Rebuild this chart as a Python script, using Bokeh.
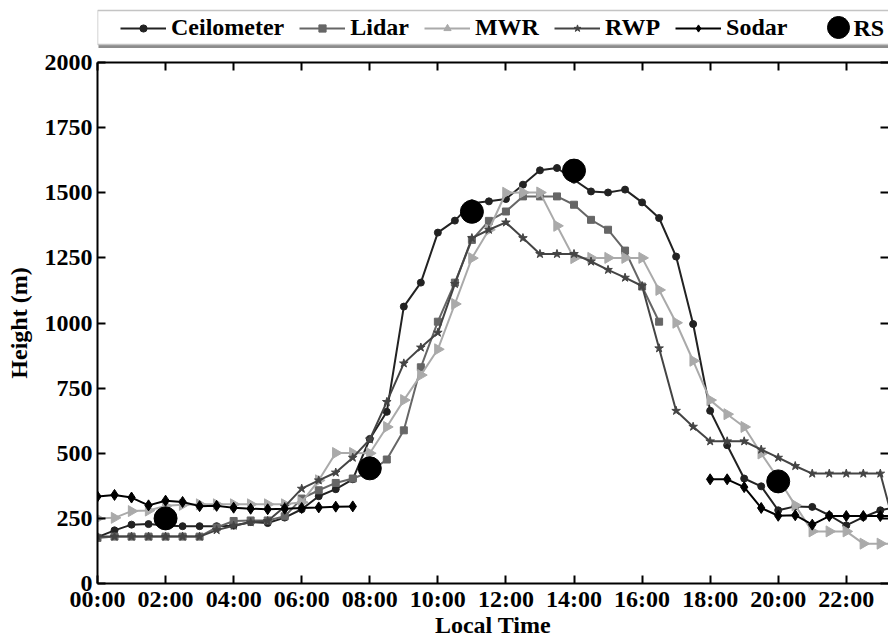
import numpy as np
from bokeh.plotting import figure
from bokeh.layouts import column
from bokeh.models import (Range1d, LinearAxis, FixedTicker, Legend, LegendItem,
                          ColumnDataSource, Label)
from bokeh.embed import file_html
from bokeh.resources import INLINE

nan = float("nan")

hours = [0, 0.5, 1, 1.5, 2, 2.5, 3, 3.5, 4, 4.5, 5, 5.5, 6, 6.5, 7, 7.5,
         8, 8.5, 9, 9.5, 10, 10.5, 11, 11.5, 12, 12.5, 13, 13.5, 14, 14.5, 15, 15.5,
         16, 16.5, 17, 17.5, 18, 18.5, 19, 19.5, 20, 20.5, 21, 21.5, 22, 22.5, 23, 23.5]

ceilometer = [178, 204, 226, 228, 223, 220, 220, 220, 222, 236, 232, 253, 285, 335, 362, 400,
              555, 659, 1063, 1155, 1347, 1393, 1460, 1467, 1476, 1531, 1586, 1595, 1550, 1505, 1501, 1512,
              1463, 1403, 1255, 996, 663, 531, 403, 373, 281, 296, 294, 262, 223, 255, 281, 295]

lidar = [175, 180, 180, 180, 180, 180, 180, 215, 240, 242, 242, 258, 326, 358, 386, 403,
         428, 476, 588, 830, 1005, 1155, 1319, 1392, 1428, 1486, 1486, 1486, 1454, 1396, 1358, 1278,
         1140, 1005, nan, nan, nan, nan, nan, nan, nan, nan, nan, nan, nan, nan, nan, nan]

mwr = [250, 252, 278, 280, 298, 302, 304, 304, 304, 304, 304, 304, 312, 396, 501, 501,
       500, 601, 704, 800, 899, 1073, 1249, 1358, 1500, 1501, 1501, 1373, 1249, 1250, 1250, 1250,
       1250, 1127, 1001, 855, 704, 650, 601, 499, 403, 300, 200, 200, 200, 153, 153, 153]

rwp = [180, 180, 180, 180, 180, 180, 180, 205, 222, 235, 240, 295, 364, 396, 426, 483,
       553, 697, 845, 906, 963, 1150, 1326, 1358, 1386, 1326, 1265, 1265, 1265, 1236, 1204, 1174,
       1142, 903, 663, 602, 546, 546, 546, 514, 483, 451, 422, 422, 422, 422, 422, 180]

sodar = [334, 340, 330, 300, 318, 313, 297, 298, 291, 287, 285, 287, 290, 292, 295, 296,
         nan, nan, nan, nan, nan, nan, nan, nan, nan, nan, nan, nan, nan, nan, nan, nan,
         nan, nan, nan, nan, 400, 400, 370, 290, 260, 262, 226, 259, 259, 259, 259, 259]

rs_hours = [2, 8, 11, 14, 20]
rs_height = [250, 442, 1427, 1585, 392]

series_names = ["Ceilometer", "Lidar", "MWR", "RWP", "Sodar", "RS"]

x_ticks = [0, 2, 4, 6, 8, 10, 12, 14, 16, 18, 20, 22]
x_tick_labels = ["00:00", "02:00", "04:00", "06:00", "08:00", "10:00",
                 "12:00", "14:00", "16:00", "18:00", "20:00", "22:00"]
y_ticks = [0, 250, 500, 750, 1000, 1250, 1500, 1750, 2000]

FONT = "Liberation Serif"
W = 888
LEFT = 97
LEG_H = 48
MAIN_H = 640 - LEG_H
FRAME_TOP = 62

# ---------------- main plot ----------------
p = figure(width=W, height=MAIN_H, output_backend="svg", toolbar_location=None,
           x_range=Range1d(0, 23.24), y_range=Range1d(0, 2000),
           min_border_left=LEFT, min_border_right=0, min_border_top=FRAME_TOP - LEG_H,
           min_border_bottom=57)
p.xgrid.visible = False
p.ygrid.visible = False
p.outline_line_color = None
p.background_fill_color = "white"


def style_axis(ax, ticks, labels=True):
    ax.ticker = FixedTicker(ticks=ticks)
    ax.axis_line_color = "black"
    ax.axis_line_width = 2
    ax.major_tick_line_color = "black"
    ax.major_tick_line_width = 2
    ax.major_tick_in = 8
    ax.major_tick_out = 0
    ax.minor_tick_line_color = None
    ax.major_label_text_font = FONT
    ax.major_label_text_font_style = "bold"
    ax.major_label_text_color = "black"
    ax.axis_label_text_color = "black"
    if labels:
        ax.major_label_text_font_size = "24px"
    else:
        ax.major_label_text_font_size = "1px"
        ax.major_label_text_alpha = 0
        ax.major_label_standoff = 0


xa = p.xaxis[0]
style_axis(xa, x_ticks)
xa.major_label_overrides = {t: l for t, l in zip(x_ticks, x_tick_labels)}
xa.major_label_standoff = 2
xa.axis_label = "Local Time"
xa.axis_label_text_font = FONT
xa.axis_label_text_font_style = "bold"
xa.axis_label_text_font_size = "24px"
xa.axis_label_standoff = -3

ya = p.yaxis[0]
style_axis(ya, y_ticks)
ya.major_label_standoff = 5
ya.axis_label = "Height (m)"
ya.axis_label_text_font = FONT
ya.axis_label_text_font_style = "bold"
ya.axis_label_text_font_size = "24px"
ya.axis_label_standoff = 10

top = LinearAxis()
style_axis(top, x_ticks, labels=False)
p.add_layout(top, "above")

right = LinearAxis()
style_axis(right, y_ticks, labels=False)
right.axis_line_color = None
p.add_layout(right, "right")

styles = {
    "Ceilometer": dict(color="#222222", marker="circle", size=7, angle=0.0),
    "Lidar": dict(color="#666666", marker="square", size=7, angle=0.0),
    "MWR": dict(color="#aaaaaa", marker="triangle", size=11, angle=-np.pi / 2),
    "RWP": dict(color="#444444", marker="star", size=9, angle=0.0),
    "Sodar": dict(color="#000000", marker="diamond", size=11, angle=0.0),
}
values = {"Ceilometer": ceilometer, "Lidar": lidar, "MWR": mwr, "RWP": rwp, "Sodar": sodar}

for name in series_names[:5]:
    st = styles[name]
    src = ColumnDataSource(dict(x=np.array(hours, dtype=float),
                                y=np.array(values[name], dtype=float)))
    p.line("x", "y", source=src, line_color=st["color"], line_width=2)
    p.scatter("x", "y", source=src, marker=st["marker"], size=st["size"],
              fill_color=st["color"], line_color=st["color"], angle=st["angle"])

p.scatter(rs_hours, rs_height, marker="circle", size=23, fill_color="black", line_color="black")

# ---------------- legend strip (frame is aligned with the main plot frame) ----------------
lg = figure(width=W, height=LEG_H, output_backend="svg", toolbar_location=None,
            x_range=Range1d(LEFT, W), y_range=Range1d(LEG_H, 0),
            x_axis_type=None, y_axis_type=None,
            min_border_left=LEFT, min_border_right=0, min_border_top=0, min_border_bottom=0)
lg.xgrid.visible = False
lg.ygrid.visible = False
lg.outline_line_color = None
lg.background_fill_color = "white"

# legend box with drop shadow
lg.quad(left=[98], right=[905], top=[14], bottom=[48], fill_color="#8c8c8c", line_color=None)
lg.quad(left=[97], right=[900], top=[10], bottom=[44], fill_color="white",
        line_color="#c4c4c4", line_width=1.5)

items = []
for name in series_names[:5]:
    st = styles[name]
    dummy = ColumnDataSource(dict(x=[nan], y=[nan]))
    ln = lg.line("x", "y", source=dummy, line_color=st["color"], line_width=2)
    sc = lg.scatter("x", "y", source=dummy, marker=st["marker"], size=st["size"],
                    fill_color=st["color"], line_color=st["color"], angle=st["angle"])
    items.append(LegendItem(label=name, renderers=[ln, sc]))

legend = Legend(items=items, orientation="horizontal", location=(120 - LEFT, LEG_H - 41))
legend.label_text_font = FONT
legend.label_text_font_style = "bold"
legend.label_text_font_size = "24px"
legend.label_text_color = "black"
legend.glyph_width = 46
legend.glyph_height = 18
legend.label_standoff = 5
legend.spacing = 15
legend.padding = 0
legend.margin = 0
legend.border_line_color = None
legend.background_fill_alpha = 0
lg.add_layout(legend, "center")

# RS entry (large marker, as in the original)
lg.scatter([838], [27], marker="circle", size=22, fill_color="black", line_color="black")
lg.add_layout(Label(x=853, y=27, text=series_names[5], text_font=FONT, text_font_style="bold",
                    text_font_size="24px", text_color="black", text_baseline="middle",
                    text_align="left"))

layout = column(lg, p, spacing=0)
open("out.html", "w").write(file_html(layout, INLINE))
